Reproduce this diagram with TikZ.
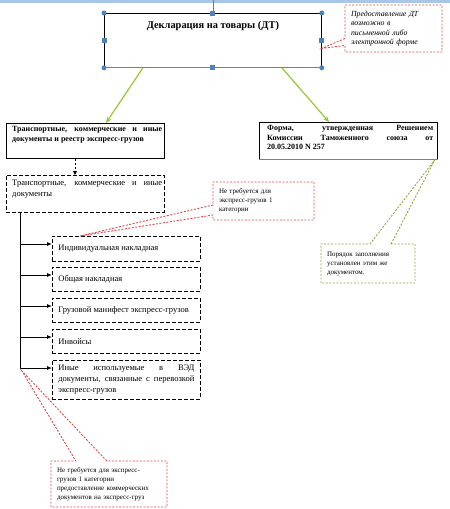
\documentclass[tikz,border=0pt]{standalone}
\usepackage{fontspec}
\setmainfont{Liberation Serif}
\usetikzlibrary{shapes.callouts,arrows.meta}

\definecolor{handleblue}{HTML}{4F81BD}
\definecolor{rulerblue}{HTML}{A8C6E6}
\definecolor{arrowgreen}{HTML}{96C832}
\definecolor{noteolive}{HTML}{A0A040}
\definecolor{notered}{HTML}{E2474B}

\tikzset{
  docbox/.style   = {shape=rectangle, draw, line width=0.8pt, anchor=north west},
  dashbox/.style  = {docbox, dash pattern=on 4pt off 2pt},
  listbox/.style  = {dashbox, minimum width=148pt, text width=136pt, inner xsep=6pt,
                     align=justify, font=\fontsize{8.5}{11}\selectfont},
  boldtext/.style = {anchor=north west, align=justify, font=\fontsize{8}{9.5}\selectfont\bfseries},
  note/.style     = {rectangle callout, line width=0.9pt, dash pattern=on 2pt off 1.5pt,
                     align=left, inner xsep=6pt, font=\fontsize{7}{9}\selectfont},
  rednote/.style  = {note, draw=notered},
  olivenote/.style= {note, draw=noteolive},
  corner/.style   = {circle, fill=handleblue, minimum size=5pt},
  grip/.style     = {rectangle, fill=handleblue, minimum size=5pt},
  feed/.style     = {draw=arrowgreen, line width=1.2pt, -{Stealth[length=6pt,width=5pt]}},
  branch/.style   = {draw, line width=0.8pt, -{Latex[length=5pt,width=4pt]}}
}

\begin{document}
\begin{tikzpicture}
  [
    x                 = 1pt,
    y                 = -1pt,
    every node/.style = {inner sep=0pt}
  ]
  \useasboundingbox (0,0) rectangle (450,509);
  \draw [rulerblue, line width=2.5pt] (0,1.5) -- (450,1.5);

  \node [docbox, minimum width=217pt, minimum height=54pt] (main) at (104,13) {};
  \draw [gray, line width=1pt] (main.south west) -- (main.south east);
  \node [anchor=base, font=\fontsize{10.4}{12}\selectfont\bfseries] (maintitle)
    at ([yshift=-15.5pt]main.north) {Декларация на товары (ДТ)};
  \draw [handleblue, line width=0.6pt] (main.north |- 0,0) -- (main.north);
  \foreach \a in {north west, north east, south west, south east}
    \node [corner] at (main.\a) {};
  \foreach \a in {north, south, east, west}
    \node [grip] at (main.\a) {};

  \node [docbox, minimum width=158pt, minimum height=35pt] (trans) at (6,123) {};
  \node [boldtext, text width=150pt] (transtext) at ([shift={(6pt,-3.5pt)}]trans.north west)
    {Транспортные, коммерческие и иные\linebreak документы и реестр экспресс-грузов};

  \node [docbox, minimum width=178pt, minimum height=37pt] (form) at (259,122) {};
  \draw [gray, line width=1pt] (form.south west) -- (form.south east);
  \node [boldtext, text width=166pt] (formtext) at ([shift={(8pt,-3.5pt)}]form.north west)
    {Форма, утвержденная Решением\linebreak Комиссии Таможенного союза от\linebreak 20.05.2010 N 257};

  \draw [feed] ([xshift=-70pt]main.south) -- (106,0 |- trans.north);
  \draw [feed] ([xshift=69pt]main.south) -- (329,0 |- form.north);

  \node [dashbox, minimum width=158pt, minimum height=37pt] (docs) at (6,175) {};
  \node [boldtext, font=\fontsize{8.5}{10.5}\selectfont, text width=150pt] (docstext)
    at ([shift={(6pt,-5pt)}]docs.north west)
    {Транспортные, коммерческие и иные\linebreak документы};
  \draw [line width=0.9pt, dash pattern=on 2.5pt off 1.5pt, -{Triangle[length=4pt,width=4pt]}]
    (75,0 |- trans.south) -- (75,0 |- docs.north);

  \node [listbox, minimum height=25pt] (single) at (52,236) {Индивидуальная накладная};
  \node [listbox, minimum height=24pt] (common) at (52,267) {Общая накладная};
  \node [listbox, minimum height=24pt] (manifest) at (52,298) {Грузовой манифест экспресс-грузов};
  \node [listbox, minimum height=24pt] (invoice) at (52,329) {Инвойсы};
  \node [listbox, minimum height=39pt] (other) at (52,360)
    {Иные используемые в ВЭД\linebreak документы, связанные с перевозкой\linebreak экспресс-грузов};

  \coordinate (trunk) at ([xshift=14pt]docs.south west);
  \coordinate (trunkend) at (trunk |- 0,368);
  \draw [line width=0.8pt] (trunk) -- (trunkend);
  \foreach \b in {single, common, manifest, invoice, other} {
    \coordinate (tip) at ([yshift=-8pt]\b.north west);
    \draw [branch] (trunk |- tip) -- (tip);
  }

  \node [rednote, text width=85pt, minimum height=47pt, callout pointer width=7pt,
         font=\fontsize{7.8}{9.3}\selectfont\itshape,
         callout absolute pointer={([yshift=-8pt]main.east)}] (formnote)
    at (393.5,28.5) {Предоставление ДТ\\ возможно в\\ письменной либо\\ электронной форме};
  \node [rednote, text width=89pt, minimum height=38pt, callout pointer width=10pt,
         callout absolute pointer={([xshift=28pt]single.north west)}] (expressnote)
    at (263.5,201) {Не требуется для\\ экспресс-грузов 1\\ категории};
  \node [olivenote, text width=82pt, minimum height=39pt, callout pointer width=21pt,
         callout absolute pointer={([xshift=-3pt]form.south east)}] (ordernote)
    at (368,263.5) {Порядок заполнения\\ установлен этим же\\ документом.};
  \node [rednote, text width=104pt, minimum height=46pt, callout pointer width=31pt,
         callout absolute pointer={([shift={(2pt,-3pt)}]trunkend)}] (commnote)
    at (109,484) {Не требуется для экспресс-\\ грузов 1 категории\\ предоставление коммерческих\\ документов на экспресс-груз};
\end{tikzpicture}
\end{document}
